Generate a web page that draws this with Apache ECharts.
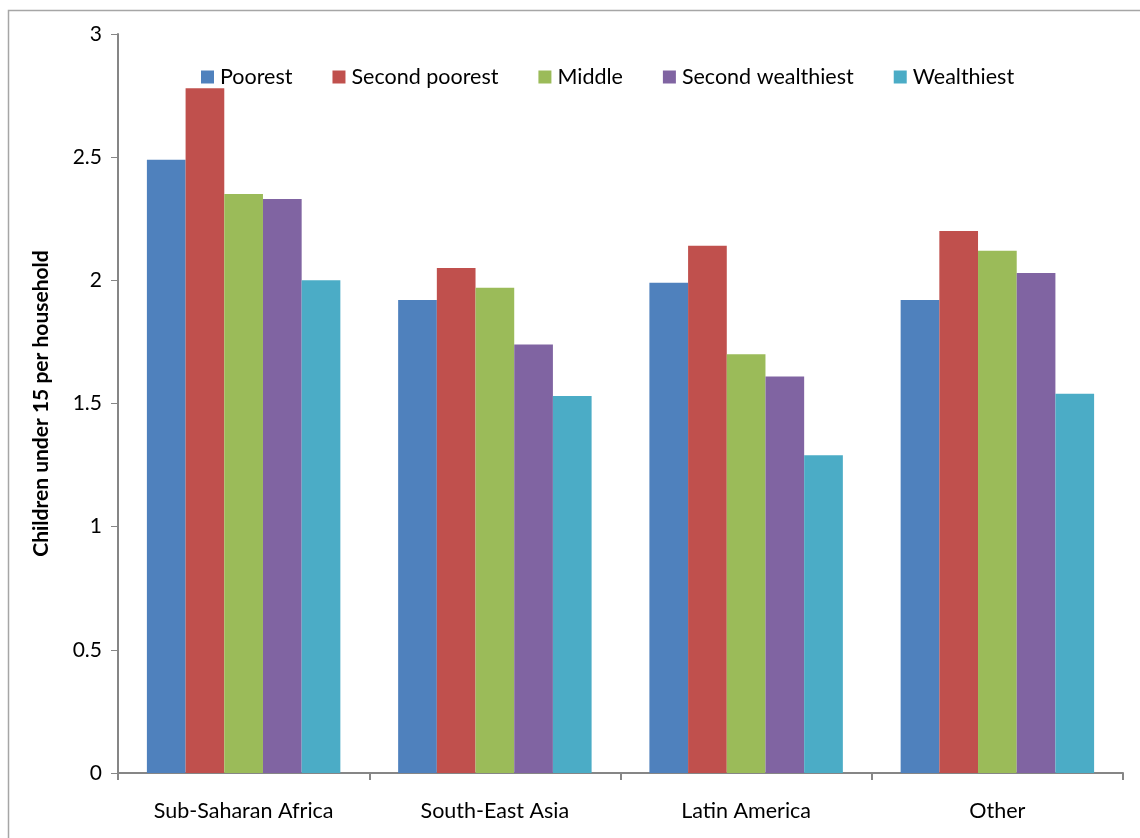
<!DOCTYPE html>
<html>
<head>
<meta charset="utf-8">
<script src="https://cdn.jsdelivr.net/npm/echarts@6/dist/echarts.min.js"></script>
<style>
  html, body { margin: 0; padding: 0; background: #fff; }
  #chart { width: 1140px; height: 838px; }
</style>
</head>
<body>
<div id="chart"></div>
<script>
var regions = ['Sub-Saharan Africa', 'South-East Asia', 'Latin America', 'Other'];
var groups = ['Poorest', 'Second poorest', 'Middle', 'Second wealthiest', 'Wealthiest'];
var colors = ['#4f81bd', '#c0504d', '#9bbb59', '#8064a2', '#4bacc6'];

var poorest = [2.49, 1.92, 1.99, 1.92];
var secondPoorest = [2.78, 2.05, 2.14, 2.20];
var middle = [2.35, 1.97, 1.70, 2.12];
var secondWealthiest = [2.33, 1.74, 1.61, 2.03];
var wealthiest = [2.00, 1.53, 1.29, 1.54];

var values = [poorest, secondPoorest, middle, secondWealthiest, wealthiest];
var font = 'Lato, "Open Sans", sans-serif';

var chartDom = document.getElementById('chart');
var myChart = echarts.init(chartDom);

var option = {
  animation: false,
  textStyle: { fontFamily: font },
  graphic: [{
    type: 'rect',
    shape: { x: 8.5, y: 10.5, width: 1200, height: 900 },
    style: { fill: 'none', stroke: '#a6a6a6', lineWidth: 1.5 },
    silent: true
  }],
  legend: {
    top: 61,
    left: 196,
    itemWidth: 13,
    itemHeight: 13,
    itemGap: 40,
    icon: 'rect',
    textStyle: { fontSize: 21.5, color: '#000', fontFamily: font, padding: [0, 0, 0, 1] }
  },
  grid: { left: 118, right: 17, top: 34, bottom: 65 },
  xAxis: {
    type: 'category',
    data: regions,
    axisLine: { lineStyle: { color: '#868686', width: 2 } },
    axisTick: { show: true, length: 7, lineStyle: { color: '#868686', width: 2 } },
    axisLabel: { fontSize: 21.5, color: '#000', margin: 27, fontFamily: font }
  },
  yAxis: {
    type: 'value',
    min: 0,
    max: 3,
    interval: 0.5,
    name: 'Children under 15 per household',
    nameLocation: 'middle',
    nameGap: 66,
    nameTextStyle: { fontSize: 21, fontWeight: 'bold', color: '#000', fontFamily: font },
    splitLine: { show: false },
    axisLine: { show: true, lineStyle: { color: '#868686', width: 2 } },
    axisTick: { show: true, length: 7, lineStyle: { color: '#868686', width: 1 } },
    axisLabel: { fontSize: 21, color: '#000', margin: 16, fontFamily: font }
  },
  series: groups.map(function (g, i) {
    return {
      name: g,
      type: 'bar',
      data: values[i],
      barGap: '0%',
      barCategoryGap: '23%',
      itemStyle: { color: colors[i] }
    };
  })
};

myChart.setOption(option);
window.addEventListener('resize', () => myChart.resize());
</script>
</body>
</html>
